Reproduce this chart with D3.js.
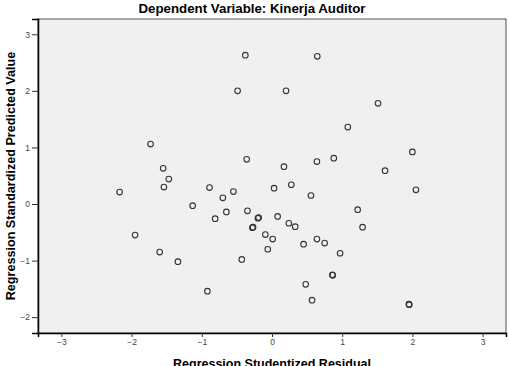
<!DOCTYPE html>
<html>
<head>
<meta charset="utf-8">
<script src="https://cdn.jsdelivr.net/npm/d3@7"></script>
<style>
  body { margin: 0; background: #fff; }
  svg { display: block; font-family: 'Liberation Sans', Arial, sans-serif; }
</style>
</head>
<body>
<svg id="chart" width="509" height="366"></svg>
<script>
// residual (x) and predicted value (y) per case
const residual = [
  -0.38, 0.645, -0.49, 0.20, 1.51, 1.08, -1.73, -0.36, 2.00, 0.64,
  0.88, 0.17, 1.61, -1.55, -1.47, -1.54, -2.17, -0.89, -0.70, -0.55,
  0.03, 0.275, 0.555, 2.05, -1.13, -0.65, -0.81, -0.35, -0.19, -0.20,
  0.08, -0.27, -0.28, 0.24, 0.33, -0.095, 0.01, -0.06, 0.45, 0.64,
  0.75, 0.97, 1.22, 1.29, -1.95, -1.60, -1.34, -0.43, -0.92, 0.86,
  0.865, 0.48, 0.57, 1.95, 1.955
];
const predicted = [
  2.63, 2.61, 2.00, 2.00, 1.78, 1.36, 1.06, 0.79, 0.92, 0.75,
  0.81, 0.66, 0.59, 0.63, 0.44, 0.30, 0.21, 0.29, 0.11, 0.22,
  0.28, 0.34, 0.15, 0.25, -0.03, -0.14, -0.26, -0.12, -0.24, -0.25,
  -0.22, -0.41, -0.42, -0.34, -0.40, -0.54, -0.62, -0.80, -0.71, -0.62,
  -0.69, -0.87, -0.10, -0.41, -0.55, -0.85, -1.02, -0.98, -1.54, -1.25,
  -1.26, -1.42, -1.70, -1.77, -1.78
];
const xTicks = [-3, -2, -1, 0, 1, 2, 3];
const yTicks = [-2, -1, 0, 1, 2, 3];

const title = 'Dependent Variable: Kinerja Auditor';
const xLabel = 'Regression Studentized Residual';
const yLabel = 'Regression Standardized Predicted Value';

const svg = d3.select('#chart');
const plotL = 38, plotR = 506, plotT = 19, plotB = 333;

const x = d3.scaleLinear().domain([-3.333, 3.333]).range([plotL, plotR]);
const y = d3.scaleLinear().domain([-2.28, 3.27]).range([plotB, plotT]);

svg.append('rect')
  .attr('x', plotL).attr('y', plotT)
  .attr('width', plotR - plotL).attr('height', plotB - plotT)
  .attr('fill', '#f0f0f0')
  .attr('stroke', '#555')
  .attr('stroke-width', 1);

const xAxis = svg.append('g')
  .attr('transform', `translate(0,${plotB})`)
  .call(d3.axisBottom(x).tickValues(xTicks).tickSize(4).tickFormat(d3.format('d')));
const yAxis = svg.append('g')
  .attr('transform', `translate(${plotL},0)`)
  .call(d3.axisLeft(y).tickValues(yTicks).tickSize(6).tickFormat(d3.format('d')));

[xAxis, yAxis].forEach(g => {
  g.select('.domain').attr('stroke', '#000').attr('stroke-width', 1.5);
  g.selectAll('.tick line').attr('stroke', '#333');
  g.selectAll('.tick text')
    .attr('fill', '#444')
    .style('font-size', '8.5px')
    .style('font-family', "'Liberation Sans', Arial, sans-serif");
});
xAxis.selectAll('.tick text').attr('dy', '0.6em');
yAxis.selectAll('.tick text').attr('x', -8);

svg.append('g')
  .selectAll('circle')
  .data(d3.range(residual.length))
  .join('circle')
  .attr('cx', i => x(residual[i]))
  .attr('cy', i => y(predicted[i]))
  .attr('r', 2.8)
  .attr('fill', 'none')
  .attr('stroke', '#333')
  .attr('stroke-width', 1.1);

svg.append('text')
  .attr('x', 252).attr('y', 13)
  .attr('text-anchor', 'middle')
  .style('font-size', '13.3px').style('font-weight', 'bold')
  .text(title);

svg.append('text')
  .attr('x', 272).attr('y', 368)
  .attr('text-anchor', 'middle')
  .style('font-size', '12.5px').style('font-weight', 'bold')
  .text(xLabel);

svg.append('text')
  .attr('transform', 'translate(15,176) rotate(-90)')
  .attr('text-anchor', 'middle')
  .style('font-size', '12.6px').style('font-weight', 'bold')
  .text(yLabel);
</script>
</body>
</html>
